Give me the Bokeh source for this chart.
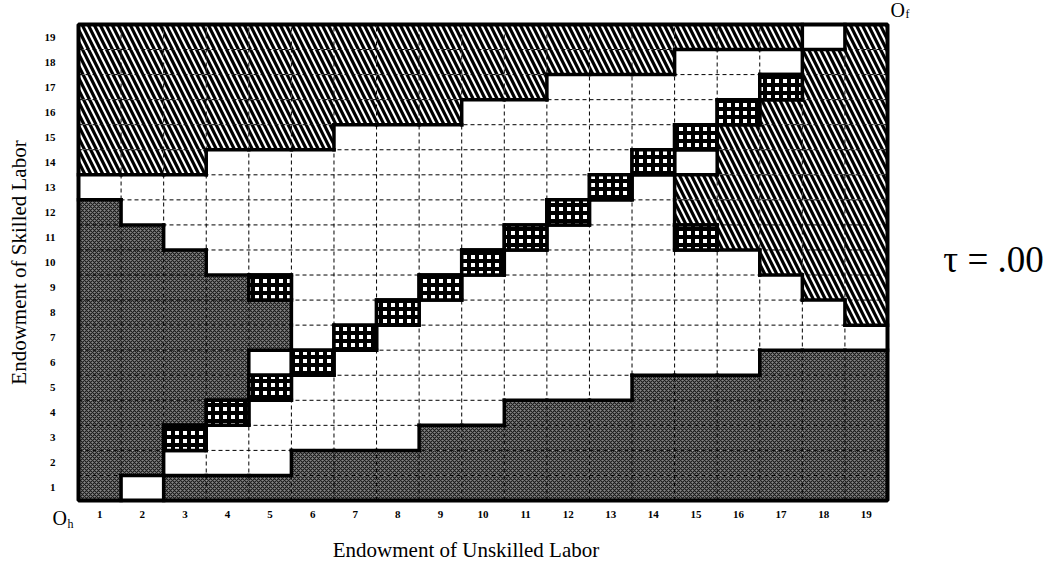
import numpy as np
from bokeh.plotting import figure
from bokeh.models import Range1d, ColumnDataSource
from bokeh.core.properties import value
from bokeh.embed import file_html
from bokeh.resources import INLINE

# Unskilled labour endowment (columns) and skilled labour endowment (rows)
unskilled = list(range(1, 20))
skilled = list(range(1, 20))
tick_labels = [str(v) for v in unskilled]

# Regime of each cell, rows listed from skilled = 19 (top) down to skilled = 1,
# characters are unskilled = 1 .. 19.
# H = dark stipple, F = diagonal hatch, W = blank, D = boxed checker (diagonal)
rows_top_down = [
    "FFFFFFFFFFFFFFFFFWF",  # 19
    "FFFFFFFFFFFFFFWWWFF",  # 18
    "FFFFFFFFFFFWWWWWDFF",  # 17
    "FFFFFFFFFWWWWWWDFFF",  # 16
    "FFFFFFWWWWWWWWDFFFF",  # 15
    "FFFWWWWWWWWWWDWFFFF",  # 14
    "WWWWWWWWWWWWDWFFFFF",  # 13
    "HWWWWWWWWWWDWWFFFFF",  # 12
    "HHWWWWWWWWDWWWDFFFF",  # 11
    "HHHWWWWWWDWWWWWWFFF",  # 10
    "HHHHDWWWDWWWWWWWWFF",  # 9
    "HHHHHWWDWWWWWWWWWWF",  # 8
    "HHHHHWDWWWWWWWWWWWW",  # 7
    "HHHHWDWWWWWWWWWWHHH",  # 6
    "HHHHDWWWWWWWWHHHHHH",  # 5
    "HHHDWWWWWWHHHHHHHHH",  # 4
    "HHDWWWWWHHHHHHHHHHH",  # 3
    "HHWWWHHHHHHHHHHHHHH",  # 2
    "HWHHHHHHHHHHHHHHHHH",  # 1
]
x_title = "Endowment of Unskilled Labor"
y_title = "Endowment of Skilled Labor"
tau_text = "\u03c4 = .00"

n = len(unskilled)
cat = {}
for r, row in enumerate(rows_top_down):
    s = skilled[n - 1 - r]
    for c, ch in enumerate(row):
        cat[(unskilled[c], s)] = ch

def cells(kind):
    xs = [k[0] for k, v in cat.items() if v == kind]
    ys = [k[1] for k, v in cat.items() if v == kind]
    return ColumnDataSource(dict(x=xs, y=ys))

# page layout (pixels) of the cell field inside the canvas
W, H = 1050, 560
L, R, T, B = 78, 887, 24, 500
lo, hi = unskilled[0] - 0.5, unskilled[-1] + 0.5
ux = (R - L) / (hi - lo)
uy = (B - T) / (hi - lo)
xr = Range1d(lo - L / ux, hi + (W - R) / ux)
yr = Range1d(lo - (H - B) / uy, hi + T / uy)

p = figure(width=W, height=H, output_backend="svg", toolbar_location=None,
           x_range=xr, y_range=yr, x_axis_type=None, y_axis_type=None,
           min_border=0)
p.background_fill_color = "white"
p.border_fill_color = "white"
p.outline_line_color = None

# blank cells
p.rect("x", "y", width=1, height=1, source=cells("W"), fill_color="white", line_color=None)
# hatched cells
p.rect("x", "y", width=1, height=1, source=cells("F"), fill_color="white", line_color=None,
       hatch_pattern="\\", hatch_color="black", hatch_scale=12, hatch_weight=3.2)
# dark stipple cells
p.rect("x", "y", width=1, height=1, source=cells("H"), fill_color="#858585", line_color=None,
       hatch_pattern="x", hatch_color="#1a1a1a", hatch_scale=4, hatch_weight=1.1)

# dashed cell grid
edges = [e + 0.5 for e in range(int(lo - 0.5), int(hi + 0.5))]
p.segment(x0=edges, y0=[lo] * len(edges), x1=edges, y1=[hi] * len(edges),
          line_color="black", line_width=1, line_dash="4 3")
p.segment(x0=[lo] * len(edges), y0=edges, x1=[hi] * len(edges), y1=edges,
          line_color="black", line_width=1, line_dash="4 3")

# thick borders between different regimes
x0, y0, x1, y1 = [], [], [], []
for (i, j), v in cat.items():
    if (i + 1, j) in cat and cat[(i + 1, j)] != v:
        x0.append(i + 0.5); x1.append(i + 0.5); y0.append(j - 0.5); y1.append(j + 0.5)
    if (i, j + 1) in cat and cat[(i, j + 1)] != v:
        x0.append(i - 0.5); x1.append(i + 0.5); y0.append(j + 0.5); y1.append(j + 0.5)
p.segment(x0, y0, x1, y1, line_color="black", line_width=3.5, line_cap="square")

# boxed checker cells on the diagonal
p.rect("x", "y", width=1, height=1, source=cells("D"), fill_color="white",
       line_color="black", line_width=3.5,
       hatch_pattern="+", hatch_color="black", hatch_scale=8, hatch_weight=4)

# outer frame
p.rect(x=[(lo + hi) / 2], y=[(lo + hi) / 2], width=hi - lo, height=hi - lo,
       fill_color=None, line_color="black", line_width=4)

serif = value("Liberation Serif")
# tick labels
p.text(x=unskilled, y=[lo] * n, text=tick_labels, y_offset=14, text_align="center",
       text_baseline="middle", text_font=serif, text_font_style="bold",
       text_font_size="11px", text_color="black")
p.text(x=[lo] * n, y=skilled, text=tick_labels, x_offset=-23, text_align="right",
       text_baseline="middle", text_font=serif, text_font_style="bold",
       text_font_size="11px", text_color="black")

def lab(x, y, text, size, dx=0, dy=0, align="left", angle=0):
    p.text(x=[x], y=[y], text=[text], x_offset=dx, y_offset=dy, angle=angle,
           text_align=align, text_baseline="middle", text_font=serif,
           text_font_size=size, text_color="black")

mid = (lo + hi) / 2
lab(mid, lo, x_title, "21px", dx=-17, dy=49, align="center")
lab(lo, mid, y_title, "21px", dx=-60, align="center", angle=np.pi / 2)
lab(lo, lo, "O", "20px", dx=-26, dy=17)
lab(lo, lo, "h", "12px", dx=-11, dy=23)
lab(hi, hi, "O", "20px", dx=3, dy=-15)
lab(hi, hi, "f", "12px", dx=18, dy=-11)
lab(hi, mid, tau_text, "37px", dx=106, dy=-3, align="center")

open("out.html", "w").write(file_html(p, INLINE))
